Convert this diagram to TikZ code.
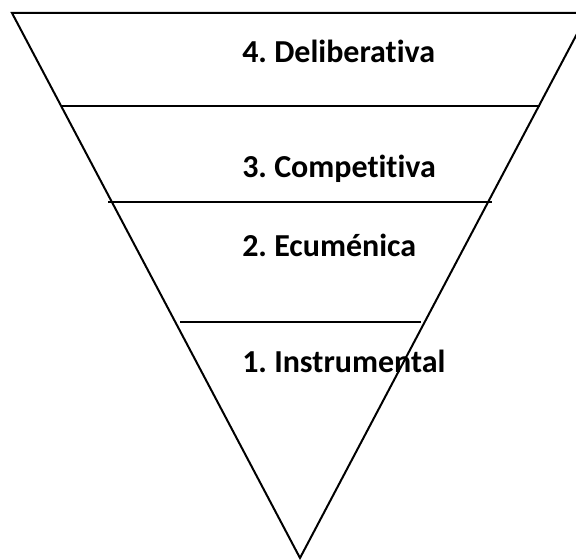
\documentclass[tikz,border=0pt]{standalone}
\usepackage{fontspec}
\setmainfont{Carlito}[Ligatures=NoCommon]
\frenchspacing
\begin{document}
\begin{tikzpicture}[
    x=0.75pt, y=-0.75pt,
    edge/.style={line width=1.5pt, black},
    level/.style={anchor=base west, inner sep=0pt, font=\fontsize{24}{28}\selectfont\bfseries}
]
    \useasboundingbox (0,0) rectangle (576,560);

    % Embudo
    \coordinate (topleft) at (12,13);
    \coordinate (topright) at (588,13);
    \coordinate (apex) at (300,558);
    \draw[edge, line join=miter] (topleft) -- (topright) -- (apex) -- cycle;

    % Divisiones
    \coordinate (d4l) at (61,106);  \coordinate (d4r) at (540,106);
    \coordinate (d3l) at (108,202); \coordinate (d3r) at (492,202);
    \coordinate (d2l) at (180,322); \coordinate (d2r) at (421,322);
    \draw[edge] (d4l) -- (d4r);
    \draw[edge] (d3l) -- (d3r);
    \draw[edge] (d2l) -- (d2r);

    % Niveles
    \node[level] (deliberativa) at (242,63) {4. Deliberativa};
    \node[level] (competitiva) at (242,178) {3. Competitiva};
    \node[level] (ecumenica) at (242,257) {2. Ecuménica};
    \node[level] (instrumental) at (242,373) {1. Instrumental};
\end{tikzpicture}
\end{document}
